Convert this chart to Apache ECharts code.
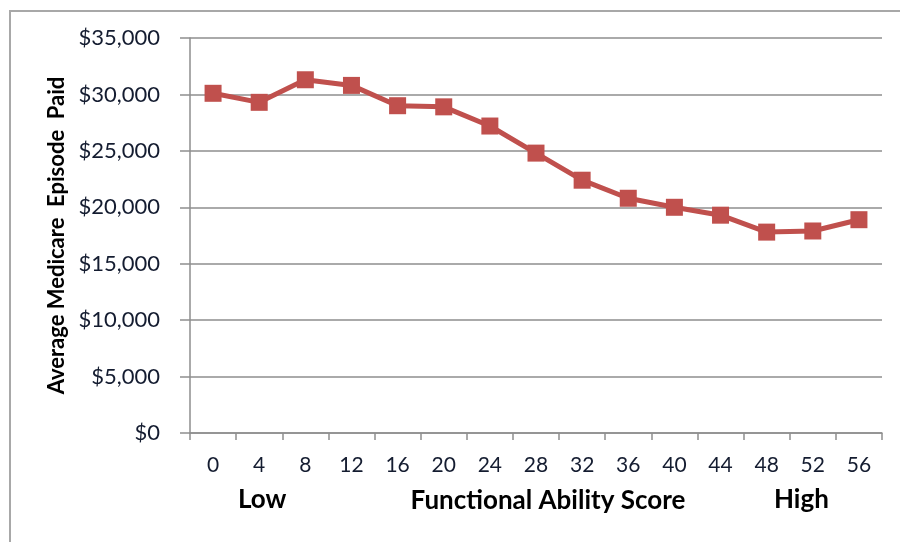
<!DOCTYPE html>
<html>
<head>
<meta charset="utf-8">
<script src="https://cdn.jsdelivr.net/npm/echarts@6/dist/echarts.min.js"></script>
<style>
  html, body { margin: 0; padding: 0; background: #ffffff; }
  #chart { width: 900px; height: 542px; }
</style>
</head>
<body>
<div id="chart"></div>
<script>
// Functional ability score buckets (x axis)
const scores = ['0', '4', '8', '12', '16', '20', '24', '28', '32', '36', '40', '44', '48', '52', '56'];
// Average Medicare episode payment per score bucket, in dollars
const avgEpisodePaid = [30100, 29300, 31300, 30800, 29000, 28900, 27200, 24800, 22400, 20800, 20000, 19300, 17800, 17900, 18900];
// Value axis ticks
const yMin = 0;
const yMax = 35000;
const yStep = 5000;

const FONT = 'Lato';
const TEXT = '#141c30';
const GRID = '#8e8e8e';
const RED = '#c0504d';

const chart = echarts.init(document.getElementById('chart'), null, { renderer: 'canvas' });

const fmtMoney = v => '$' + v.toLocaleString('en-US');

chart.setOption({
  animation: false,
  backgroundColor: '#ffffff',
  grid: { left: 190, right: 18, top: 38, bottom: 109, containLabel: false },
  xAxis: {
    type: 'category',
    data: scores,
    boundaryGap: true,
    name: 'Functional Ability Score',
    nameLocation: 'middle',
    nameGap: 55,
    nameTextStyle: { fontFamily: FONT, fontWeight: 'bold', fontSize: 26, color: '#000', padding: [0, 0, 0, 24] },
    axisLine: { show: true, lineStyle: { color: GRID, width: 1.5 } },
    axisTick: { show: true, alignWithLabel: false, length: 7, lineStyle: { color: GRID, width: 1.5 } },
    axisLabel: { fontFamily: FONT, fontSize: 21, color: TEXT, margin: 22 },
    splitLine: { show: false }
  },
  yAxis: {
    type: 'value',
    min: yMin,
    max: yMax,
    interval: yStep,
    name: 'Average Medicare  Episode  Paid',
    nameLocation: 'middle',
    nameRotate: 90,
    nameGap: 122,
    nameTextStyle: { fontFamily: FONT, fontWeight: 'bold', fontSize: 22, color: '#000' },
    axisLine: { show: true, lineStyle: { color: GRID, width: 1.5 } },
    axisTick: { show: true, length: 10, lineStyle: { color: GRID, width: 1.5 } },
    axisLabel: { fontFamily: FONT, fontSize: 22, color: TEXT, margin: 30, formatter: fmtMoney },
    splitLine: { show: true, lineStyle: { color: GRID, width: 1.5 } }
  },
  graphic: [
    {
      type: 'rect',
      shape: { x: 10, y: 11, width: 900, height: 560 },
      style: { fill: 'none', stroke: '#a8a8a8', lineWidth: 2 },
      silent: true, z: -10
    },
    {
      type: 'text', left: 238, top: 487,
      style: { text: 'Low', fontFamily: FONT, fontWeight: 'bold', fontSize: 26, fill: '#000' }
    },
    {
      type: 'text', left: 774, top: 487,
      style: { text: 'High', fontFamily: FONT, fontWeight: 'bold', fontSize: 26, fill: '#000' }
    }
  ],
  series: [{
    type: 'line',
    data: avgEpisodePaid,
    symbol: 'rect',
    symbolSize: 17,
    itemStyle: { color: RED },
    lineStyle: { color: RED, width: 5 }
  }]
});
</script>
</body>
</html>
